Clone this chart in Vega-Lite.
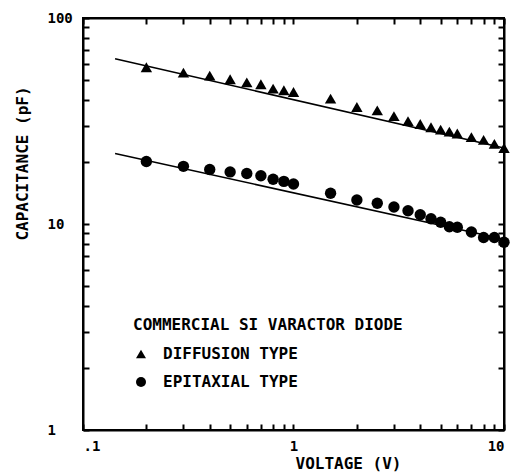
{
  "$schema": "https://vega.github.io/schema/vega-lite/v6.json",
  "width": 421,
  "height": 412,
  "autosize": {"type": "none"},
  "padding": {"left": 83, "top": 18, "right": 18, "bottom": 44},
  "background": "white",
  "config": {
    "view": {"stroke": "black", "strokeWidth": 2},
    "font": "DejaVu Sans Mono"
  },
  "datasets": {
    "points": [
      {"type": "DIFFUSION TYPE", "voltage": 0.2, "capacitance": 57.7},
      {"type": "DIFFUSION TYPE", "voltage": 0.3, "capacitance": 54.3},
      {"type": "DIFFUSION TYPE", "voltage": 0.4, "capacitance": 52.5},
      {"type": "DIFFUSION TYPE", "voltage": 0.5, "capacitance": 50.4},
      {"type": "DIFFUSION TYPE", "voltage": 0.6, "capacitance": 48.7},
      {"type": "DIFFUSION TYPE", "voltage": 0.7, "capacitance": 47.7},
      {"type": "DIFFUSION TYPE", "voltage": 0.8, "capacitance": 45.4},
      {"type": "DIFFUSION TYPE", "voltage": 0.9, "capacitance": 44.6},
      {"type": "DIFFUSION TYPE", "voltage": 1.0, "capacitance": 43.7},
      {"type": "DIFFUSION TYPE", "voltage": 1.5, "capacitance": 40.6},
      {"type": "DIFFUSION TYPE", "voltage": 2.0, "capacitance": 37.0},
      {"type": "DIFFUSION TYPE", "voltage": 2.5, "capacitance": 35.6},
      {"type": "DIFFUSION TYPE", "voltage": 3.0, "capacitance": 33.4},
      {"type": "DIFFUSION TYPE", "voltage": 3.5, "capacitance": 31.6},
      {"type": "DIFFUSION TYPE", "voltage": 4.0, "capacitance": 30.6},
      {"type": "DIFFUSION TYPE", "voltage": 4.5, "capacitance": 29.5},
      {"type": "DIFFUSION TYPE", "voltage": 5.0, "capacitance": 28.7},
      {"type": "DIFFUSION TYPE", "voltage": 5.5, "capacitance": 28.1},
      {"type": "DIFFUSION TYPE", "voltage": 6.0, "capacitance": 27.5},
      {"type": "DIFFUSION TYPE", "voltage": 7.0, "capacitance": 26.4},
      {"type": "DIFFUSION TYPE", "voltage": 8.0, "capacitance": 25.6},
      {"type": "DIFFUSION TYPE", "voltage": 9.0, "capacitance": 24.5},
      {"type": "DIFFUSION TYPE", "voltage": 10.0, "capacitance": 23.4},
      {"type": "EPITAXIAL TYPE", "voltage": 0.2, "capacitance": 20.1},
      {"type": "EPITAXIAL TYPE", "voltage": 0.3, "capacitance": 19.05},
      {"type": "EPITAXIAL TYPE", "voltage": 0.4, "capacitance": 18.4},
      {"type": "EPITAXIAL TYPE", "voltage": 0.5, "capacitance": 17.9},
      {"type": "EPITAXIAL TYPE", "voltage": 0.6, "capacitance": 17.6},
      {"type": "EPITAXIAL TYPE", "voltage": 0.7, "capacitance": 17.15},
      {"type": "EPITAXIAL TYPE", "voltage": 0.8, "capacitance": 16.5},
      {"type": "EPITAXIAL TYPE", "voltage": 0.9, "capacitance": 16.1},
      {"type": "EPITAXIAL TYPE", "voltage": 1.0, "capacitance": 15.65},
      {"type": "EPITAXIAL TYPE", "voltage": 1.5, "capacitance": 14.1},
      {"type": "EPITAXIAL TYPE", "voltage": 2.0, "capacitance": 13.07},
      {"type": "EPITAXIAL TYPE", "voltage": 2.5, "capacitance": 12.6},
      {"type": "EPITAXIAL TYPE", "voltage": 3.0, "capacitance": 12.1},
      {"type": "EPITAXIAL TYPE", "voltage": 3.5, "capacitance": 11.6},
      {"type": "EPITAXIAL TYPE", "voltage": 4.0, "capacitance": 11.1},
      {"type": "EPITAXIAL TYPE", "voltage": 4.5, "capacitance": 10.6},
      {"type": "EPITAXIAL TYPE", "voltage": 5.0, "capacitance": 10.2},
      {"type": "EPITAXIAL TYPE", "voltage": 5.5, "capacitance": 9.7},
      {"type": "EPITAXIAL TYPE", "voltage": 6.0, "capacitance": 9.65},
      {"type": "EPITAXIAL TYPE", "voltage": 7.0, "capacitance": 9.15},
      {"type": "EPITAXIAL TYPE", "voltage": 8.0, "capacitance": 8.6},
      {"type": "EPITAXIAL TYPE", "voltage": 9.0, "capacitance": 8.6},
      {"type": "EPITAXIAL TYPE", "voltage": 10.0, "capacitance": 8.15}
    ],
    "lines": [
      {"type": "DIFFUSION TYPE", "voltage": 0.142, "capacitance": 63.4},
      {"type": "DIFFUSION TYPE", "voltage": 10.0, "capacitance": 23.4},
      {"type": "EPITAXIAL TYPE", "voltage": 0.142, "capacitance": 22.0},
      {"type": "EPITAXIAL TYPE", "voltage": 10.0, "capacitance": 8.43}
    ]
  },
  "layer": [
    {
      "data": {"name": "lines"},
      "mark": {"type": "line", "color": "black", "strokeWidth": 1.5},
      "encoding": {
        "x": {"field": "voltage", "type": "quantitative",
          "scale": {"type": "log", "domain": [0.1, 10], "nice": false},
          "axis": {"orient": "top", "values": [0.1,0.2,0.3,0.4,0.5,0.6,0.7,0.8,0.9,1,2,3,4,5,6,7,8,9,10], "labels": false, "title": null, "grid": false, "domainColor": "black", "domainWidth": 2, "tickSize": -6, "tickColor": "black", "tickWidth": 2}},
        "y": {"field": "capacitance", "type": "quantitative",
          "scale": {"type": "log", "domain": [1, 100], "nice": false},
          "axis": {"orient": "right", "values": [1,2,3,4,5,6,7,8,9,10,20,30,40,50,60,70,80,90,100], "labels": false, "title": null, "grid": false, "domainColor": "black", "domainWidth": 2, "tickSize": -6, "tickColor": "black", "tickWidth": 2}},
        "detail": {"field": "type", "type": "nominal"}
      }
    },
    {
      "data": {"name": "points"},
      "mark": {"type": "point", "filled": true, "color": "black", "opacity": 1, "size": 130},
      "encoding": {
        "x": {"field": "voltage", "type": "quantitative",
          "scale": {"type": "log", "domain": [0.1, 10], "nice": false},
          "axis": {"orient": "bottom", "values": [0.1,0.2,0.3,0.4,0.5,0.6,0.7,0.8,0.9,1,2,3,4,5,6,7,8,9,10], "grid": false, "domainColor": "black", "domainWidth": 2, "tickSize": -6, "tickColor": "black", "tickWidth": 2, "labelPadding": 15,
            "labelExpr": "datum.value == 0.1 ? '.1' : (datum.value == 1 ? '1' : (datum.value == 10 ? '10' : ''))",
            "labelFont": "DejaVu Sans Mono", "labelFontWeight": "bold", "labelColor": "black", "labelFontSize": 14,
            "title": "VOLTAGE (V)", "titleFont": "DejaVu Sans Mono", "titleFontWeight": "bold", "titleColor": "black", "titleFontSize": 16, "titlePadding": 2, "titleX": 265, "titleAnchor": "middle"}},
        "y": {"field": "capacitance", "type": "quantitative",
          "scale": {"type": "log", "domain": [1, 100], "nice": false},
          "axis": {"orient": "left", "values": [1,2,3,4,5,6,7,8,9,10,20,30,40,50,60,70,80,90,100], "grid": false, "domainColor": "black", "domainWidth": 2, "tickSize": -6, "tickColor": "black", "tickWidth": 2, "labelPadding": 42, "labelAlign": "left",
            "labelExpr": "datum.value == 100 ? '100' : (datum.value == 10 ? '10' : (datum.value == 1 ? '1' : ''))",
            "labelFont": "DejaVu Sans Mono", "labelFontWeight": "bold", "labelColor": "black", "labelFontSize": 14,
            "title": "CAPACITANCE (pF)", "titleFont": "DejaVu Sans Mono", "titleFontWeight": "bold", "titleColor": "black", "titleFontSize": 16, "titleX": -61, "titleY": 145, "titleAngle": -90, "titleAlign": "center", "titleBaseline": "middle"}},
        "shape": {"field": "type", "type": "nominal",
          "scale": {"domain": ["DIFFUSION TYPE", "EPITAXIAL TYPE"], "range": ["triangle-up", "circle"]},
          "legend": {"orient": "none", "legendX": 50, "legendY": 299, "title": "COMMERCIAL SI VARACTOR DIODE",
            "titleFontSize": 16, "titleFont": "DejaVu Sans Mono", "titleFontWeight": "bold", "titleColor": "black", "titlePadding": 13, "titleLimit": 400,
            "labelFontSize": 16, "labelFont": "DejaVu Sans Mono", "labelFontWeight": "bold", "labelColor": "black", "labelOffset": 14, "labelLimit": 300,
            "symbolSize": 100, "symbolFillColor": "black", "symbolStrokeColor": "black", "symbolType": "circle", "rowPadding": 12}}
      }
    }
  ],
  "resolve": {"axis": {"x": "independent", "y": "independent"}}
}
